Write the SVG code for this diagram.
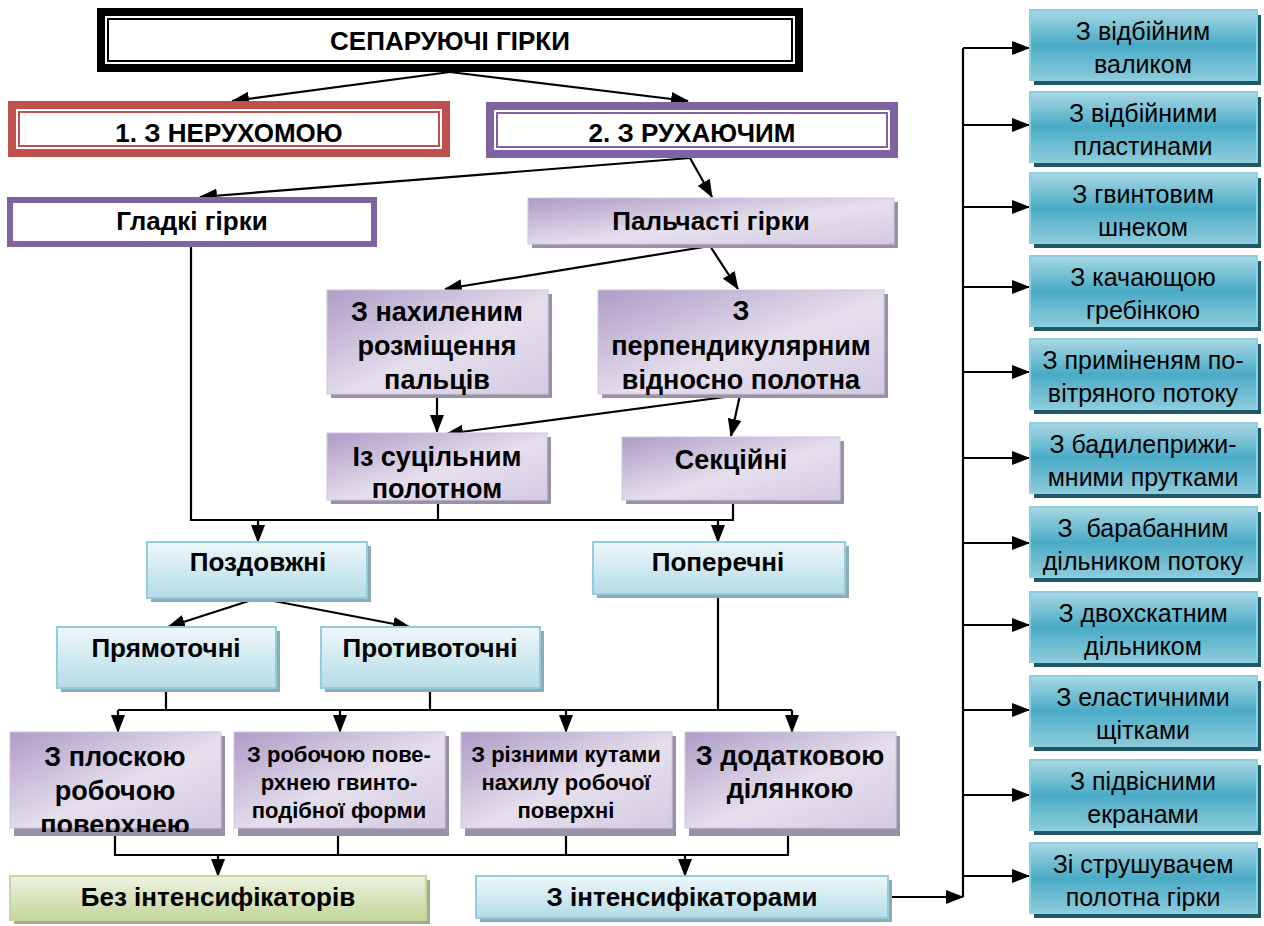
<svg xmlns="http://www.w3.org/2000/svg" width="1264" height="926" viewBox="0 0 1264 926">
<style>
text{font-family:"Liberation Sans",Arial,sans-serif;fill:#000;text-anchor:middle}
.b{font-weight:bold}
.r{font-size:25px}
.ln{stroke:#000;stroke-width:2.2;fill:none}
.ar{stroke:#000;stroke-width:2.2;fill:none;marker-end:url(#ah)}
.ps{fill:#9a90a8}
.pf{fill:url(#gp);stroke:#cfc5dc;stroke-width:1}
.bs{fill:#8faab2}
.bf{fill:url(#gb);stroke:#93cddd;stroke-width:2}
.ts{fill:#215868}
.tf{fill:url(#gt);stroke:#8ccfe0;stroke-width:2}
</style>
<defs>
<marker id="ah" markerWidth="18" markerHeight="14" refX="17" refY="7" orient="auto" markerUnits="userSpaceOnUse"><path d="M0,0 L18,7 L0,14 z" fill="#000"/></marker>
<linearGradient id="gp" x1="0" y1="0" x2="1" y2="1"><stop offset="0" stop-color="#ae9cc6"/><stop offset="0.55" stop-color="#e5dfed"/><stop offset="1" stop-color="#d4cae2"/></linearGradient>
<linearGradient id="gb" x1="0" y1="0" x2="0" y2="1"><stop offset="0" stop-color="#eef7fa"/><stop offset="1" stop-color="#b4dce7"/></linearGradient>
<linearGradient id="gt" x1="0" y1="0" x2="0" y2="1"><stop offset="0" stop-color="#a9d8e4"/><stop offset="0.5" stop-color="#4aabc6"/><stop offset="1" stop-color="#8ccbdb"/></linearGradient>
<linearGradient id="gg" x1="0" y1="0" x2="0" y2="1"><stop offset="0" stop-color="#eef3e2"/><stop offset="1" stop-color="#c3d69b"/></linearGradient>
<clipPath id="cp1"><rect x="10" y="732" width="212" height="100"/></clipPath>
</defs>

<g id="connectors">
<path class="ar" d="M450,72 L232,101"/>
<path class="ar" d="M450,72 L688,101"/>
<path class="ar" d="M690,158 L200,197"/>
<path class="ar" d="M690,158 L712,197"/>
<path class="ar" d="M710,246 L445,289"/>
<path class="ar" d="M710,246 L738,289"/>
<path class="ar" d="M437,395 L437,432"/>
<path class="ar" d="M740,395 L446,434"/>
<path class="ar" d="M740,395 L731,436"/>
<path class="ln" d="M191,245 L191,520 L733,520 L733,500 M438,500 L438,520"/>
<path class="ar" d="M258,520 L258,542"/>
<path class="ar" d="M718,520 L718,542"/>
<path class="ar" d="M258,598 L168,627"/>
<path class="ar" d="M258,598 L410,627"/>
<path class="ln" d="M166,689 L166,710 M430,689 L430,710 M718,594 L718,710 M118,710 L792,710"/>
<path class="ar" d="M118,710 L118,732"/>
<path class="ar" d="M340,710 L340,732"/>
<path class="ar" d="M566,710 L566,732"/>
<path class="ar" d="M792,710 L792,732"/>
<path class="ln" d="M115,832 L115,855 L788,855 L788,832 M338,832 L338,855 M566,832 L566,855"/>
<path class="ar" d="M218,855 L218,876"/>
<path class="ar" d="M685,855 L685,876"/>
<path class="ar" d="M888,897 L963,897"/>
<path class="ln" d="M963,48 L963,897"/>
<path class="ar" d="M963,48 L1029,48"/>
<path class="ar" d="M963,125 L1029,125"/>
<path class="ar" d="M963,207 L1029,207"/>
<path class="ar" d="M963,287 L1029,287"/>
<path class="ar" d="M963,372 L1029,372"/>
<path class="ar" d="M963,458 L1029,458"/>
<path class="ar" d="M963,543 L1029,543"/>
<path class="ar" d="M963,625 L1029,625"/>
<path class="ar" d="M963,710 L1029,710"/>
<path class="ar" d="M963,795 L1029,795"/>
<path class="ar" d="M963,876 L1029,876"/>
</g>

<g id="title">
<rect x="97" y="8" width="706" height="64" fill="#000"/>
<rect x="105" y="16" width="690" height="48" fill="#fff"/>
<rect x="108" y="19" width="684" height="42" fill="none" stroke="#000" stroke-width="2"/>
<text class="b" x="450" y="50" font-size="26">СЕПАРУЮЧІ ГІРКИ</text>
</g>

<g id="n1">
<rect x="8" y="101" width="442" height="56" fill="#c0504d"/>
<rect x="16" y="109" width="426" height="40" fill="#fff"/>
<rect x="19" y="112" width="420" height="34" fill="none" stroke="#c0504d" stroke-width="2"/>
<text class="b" x="229" y="142" font-size="26">1. З НЕРУХОМОЮ</text>
</g>

<g id="n2">
<rect x="486" y="102" width="412" height="56" fill="#8064a2"/>
<rect x="494" y="110" width="396" height="40" fill="#fff"/>
<rect x="497" y="113" width="390" height="34" fill="none" stroke="#8064a2" stroke-width="2"/>
<text class="b" x="692" y="142" font-size="26">2. З РУХАЮЧИМ</text>
</g>

<g id="n3">
<rect x="10" y="200" width="364" height="44" fill="#fff" stroke="#8064a2" stroke-width="6"/>
<text class="b" x="192" y="230" font-size="26">Гладкі гірки</text>
</g>

<g id="n4">
<rect class="ps" x="532" y="202" width="366" height="46"/>
<rect class="pf" x="528" y="198" width="366" height="46"/>
<text class="b" x="711" y="230" font-size="26">Пальчасті гірки</text>
</g>

<g id="n5">
<rect class="ps" x="331" y="294" width="221" height="104"/>
<rect class="pf" x="327" y="290" width="221" height="104"/>
<text class="b" font-size="27"><tspan x="437" y="321">З нахиленим</tspan><tspan x="437" y="355">розміщення</tspan><tspan x="437" y="389">пальців</tspan></text>
</g>

<g id="n6">
<rect class="ps" x="602" y="294" width="286" height="104"/>
<rect class="pf" x="598" y="290" width="286" height="104"/>
<text class="b" font-size="27"><tspan x="741" y="320">З</tspan><tspan x="741" y="355">перпендикулярним</tspan><tspan x="741" y="389">відносно полотна</tspan></text>
</g>

<g id="n7">
<rect class="ps" x="331" y="437" width="220" height="67"/>
<rect class="pf" x="327" y="433" width="220" height="67"/>
<text class="b" font-size="27"><tspan x="437" y="466">Із суцільним</tspan><tspan x="437" y="498">полотном</tspan></text>
</g>

<g id="n8">
<rect class="ps" x="626" y="441" width="218" height="63"/>
<rect class="pf" x="622" y="437" width="218" height="63"/>
<text class="b" x="731" y="469" font-size="27">Секційні</text>
</g>

<g id="n9">
<rect class="bs" x="151" y="546" width="220" height="56"/>
<rect class="bf" x="147" y="542" width="220" height="56"/>
<text class="b" x="258" y="571" font-size="26">Поздовжні</text>
</g>

<g id="n10">
<rect class="bs" x="597" y="546" width="252" height="52"/>
<rect class="bf" x="593" y="542" width="252" height="52"/>
<text class="b" x="718" y="571" font-size="26">Поперечні</text>
</g>

<g id="n11">
<rect class="bs" x="61" y="631" width="219" height="61"/>
<rect class="bf" x="57" y="627" width="219" height="61"/>
<text class="b" x="166" y="657" font-size="26">Прямоточні</text>
</g>

<g id="n12">
<rect class="bs" x="325" y="631" width="219" height="61"/>
<rect class="bf" x="321" y="627" width="219" height="61"/>
<text class="b" x="430" y="657" font-size="26">Противоточні</text>
</g>

<g id="n13">
<rect class="ps" x="14" y="736" width="211" height="100"/>
<rect class="pf" x="10" y="732" width="211" height="96"/>
<text class="b" font-size="27" clip-path="url(#cp1)"><tspan x="115" y="766">З плоскою</tspan><tspan x="115" y="800">робочою</tspan><tspan x="115" y="834">поверхнею</tspan></text>
</g>

<g id="n14">
<rect class="ps" x="238" y="736" width="211" height="100"/>
<rect class="pf" x="234" y="732" width="211" height="96"/>
<text class="b" font-size="22"><tspan x="339" y="762">З робочою пове-</tspan><tspan x="339" y="790">рхнею гвинто-</tspan><tspan x="339" y="818">подібної форми</tspan></text>
</g>

<g id="n15">
<rect class="ps" x="465" y="736" width="211" height="100"/>
<rect class="pf" x="461" y="732" width="211" height="96"/>
<text class="b" font-size="22"><tspan x="566" y="762">З різними кутами</tspan><tspan x="566" y="790">нахилу робочої</tspan><tspan x="566" y="818">поверхні</tspan></text>
</g>

<g id="n16">
<rect class="ps" x="689" y="736" width="211" height="100"/>
<rect class="pf" x="685" y="732" width="211" height="96"/>
<text class="b" font-size="27"><tspan x="790" y="765">З додатковою</tspan><tspan x="790" y="798">ділянкою</tspan></text>
</g>

<g id="n17">
<rect x="14" y="880" width="416" height="44" fill="#a3ab8e"/>
<rect x="10" y="876" width="416" height="44" fill="url(#gg)" stroke="#c6d8a2" stroke-width="2"/>
<text class="b" x="218" y="906" font-size="26">Без інтенсифікаторів</text>
</g>

<g id="n18">
<rect class="bs" x="480" y="880" width="412" height="42"/>
<rect class="bf" x="476" y="876" width="412" height="42"/>
<text class="b" x="682" y="906" font-size="26">З інтенсифікаторами</text>
</g>

<g id="r1"><rect class="ts" x="1034" y="15" width="227" height="70"/><rect class="tf" x="1030" y="10" width="227" height="70"/><text class="r"><tspan x="1143" y="40">З відбійним</tspan><tspan x="1143" y="73">валиком</tspan></text></g>
<g id="r2"><rect class="ts" x="1034" y="97" width="227" height="70"/><rect class="tf" x="1030" y="92" width="227" height="70"/><text class="r"><tspan x="1143" y="122">З відбійними</tspan><tspan x="1143" y="155">пластинами</tspan></text></g>
<g id="r3"><rect class="ts" x="1034" y="178" width="227" height="70"/><rect class="tf" x="1030" y="173" width="227" height="70"/><text class="r"><tspan x="1143" y="203">З гвинтовим</tspan><tspan x="1143" y="236">шнеком</tspan></text></g>
<g id="r4"><rect class="ts" x="1034" y="261" width="227" height="70"/><rect class="tf" x="1030" y="256" width="227" height="70"/><text class="r"><tspan x="1143" y="286">З качающою</tspan><tspan x="1143" y="319">гребінкою</tspan></text></g>
<g id="r5"><rect class="ts" x="1034" y="344" width="227" height="70"/><rect class="tf" x="1030" y="339" width="227" height="70"/><text class="r"><tspan x="1143" y="369">З приміненям по-</tspan><tspan x="1143" y="402">вітряного потоку</tspan></text></g>
<g id="r6"><rect class="ts" x="1034" y="428" width="227" height="70"/><rect class="tf" x="1030" y="423" width="227" height="70"/><text class="r"><tspan x="1143" y="453">З бадилеприжи-</tspan><tspan x="1143" y="486">мними прутками</tspan></text></g>
<g id="r7"><rect class="ts" x="1034" y="512" width="227" height="70"/><rect class="tf" x="1030" y="507" width="227" height="70"/><text class="r" xml:space="preserve"><tspan x="1143" y="537">З  барабанним</tspan><tspan x="1143" y="570">дільником потоку</tspan></text></g>
<g id="r8"><rect class="ts" x="1034" y="597" width="227" height="70"/><rect class="tf" x="1030" y="592" width="227" height="70"/><text class="r"><tspan x="1143" y="622">З двохскатним</tspan><tspan x="1143" y="655">дільником</tspan></text></g>
<g id="r9"><rect class="ts" x="1034" y="681" width="227" height="70"/><rect class="tf" x="1030" y="676" width="227" height="70"/><text class="r"><tspan x="1143" y="706">З еластичними</tspan><tspan x="1143" y="739">щітками</tspan></text></g>
<g id="r10"><rect class="ts" x="1034" y="765" width="227" height="70"/><rect class="tf" x="1030" y="760" width="227" height="70"/><text class="r"><tspan x="1143" y="790">З підвісними</tspan><tspan x="1143" y="823">екранами</tspan></text></g>
<g id="r11"><rect class="ts" x="1034" y="848" width="227" height="70"/><rect class="tf" x="1030" y="843" width="227" height="70"/><text class="r"><tspan x="1143" y="873">Зі струшувачем</tspan><tspan x="1143" y="906">полотна гірки</tspan></text></g>
</svg>
